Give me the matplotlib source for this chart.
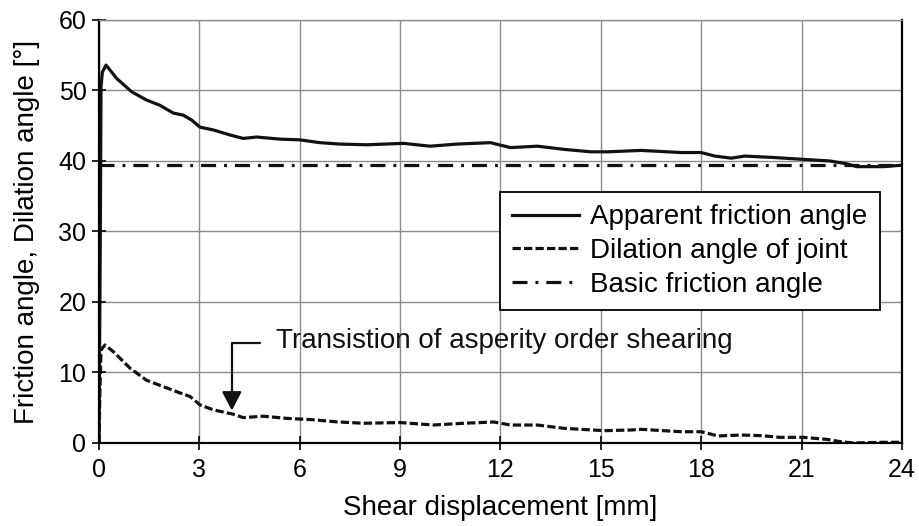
import matplotlib
matplotlib.use("Agg")
import matplotlib.pyplot as plt

plt.rcParams['font.family'] = ['Liberation Sans', 'DejaVu Sans']

# apparent friction angle
fric_x = [0.0, 0.04, 0.06, 0.1, 0.21, 0.53, 0.98, 1.42, 1.82, 2.22, 2.52, 2.77, 3.02,
          3.42, 3.91, 4.31, 4.71, 5.41, 6.0, 6.6, 7.2, 8.0, 9.1, 9.9, 10.7, 11.7,
          12.3, 13.1, 13.9, 14.7, 15.2, 16.2, 17.4, 18.0, 18.4, 18.9, 19.3, 20.15,
          21.15, 21.85, 22.35, 22.65, 23.45, 24.0]
fric_y = [0.0, 30.0, 50.5, 52.6, 53.6, 51.7, 49.8, 48.65, 47.9, 46.8, 46.5, 45.8, 44.8,
          44.4, 43.7, 43.2, 43.4, 43.1, 43.0, 42.6, 42.4, 42.3, 42.5, 42.1, 42.4, 42.6,
          41.9, 42.1, 41.65, 41.3, 41.3, 41.5, 41.2, 41.2, 40.7, 40.4, 40.7, 40.5,
          40.2, 40.0, 39.6, 39.2, 39.2, 39.4]

# dilation angle of joint
dil_x = [0.0, 0.03, 0.06, 0.18, 0.43, 0.93, 1.42, 1.92, 2.42, 2.72, 3.02, 3.42, 4.0,
         4.31, 4.9, 5.6, 6.4, 7.1, 7.9, 9.0, 10.0, 10.9, 11.8, 12.3, 13.1, 13.9,
         15.1, 15.9, 16.2, 17.4, 18.0, 18.5, 19.2, 19.8, 20.35, 21.05, 21.75, 22.15,
         22.55, 23.45, 24.0]
dil_y = [0.0, 8.0, 13.2, 13.9, 12.95, 10.6, 8.9, 8.0, 7.1, 6.6, 5.4, 4.7, 4.1,
         3.6, 3.8, 3.5, 3.3, 3.0, 2.8, 2.9, 2.55, 2.8, 2.98, 2.55, 2.55, 2.08,
         1.75, 1.84, 1.94, 1.6, 1.6, 1.0, 1.13, 1.04, 0.8, 0.8, 0.52, 0.2,
         0.0, 0.1, 0.1]

basic_angle = 39.4
x_ticks = [0, 3, 6, 9, 12, 15, 18, 21, 24]
y_ticks = [0, 10, 20, 30, 40, 50, 60]

fig = plt.figure(figsize=(9.2, 5.26), dpi=100)
ax = fig.add_axes([0.1076, 0.1578, 0.8728, 0.8042])

lw = 2.3
ax.plot(fric_x, fric_y, color='#111111', lw=lw, label='Apparent friction angle')
ax.plot(dil_x, dil_y, color='#111111', lw=lw, dashes=(2.6, 1.0),
        label='Dilation angle of joint')
ax.plot([0, 24], [basic_angle, basic_angle], color='#111111', lw=lw,
        dashes=(4.7, 2.5, 0.9, 2.5), label='Basic friction angle')

ax.set_xlim(0, 24)
ax.set_ylim(0, 60)
ax.set_xticks(x_ticks)
ax.set_yticks(y_ticks)
ax.grid(True, color='#8c8c8c', lw=1.0)
ax.set_axisbelow(True)

for s in ['left', 'bottom', 'right']:
    ax.spines[s].set_color('black')
    ax.spines[s].set_linewidth(1.6)
ax.spines['top'].set_color('#8c8c8c')
ax.spines['top'].set_linewidth(1.0)

ax.tick_params(axis='x', direction='inout', length=10, width=1.2, labelsize=18, pad=6)
ax.tick_params(axis='y', direction='inout', length=10, width=1.2, labelsize=18, pad=4)

ax.set_xlabel('Shear displacement [mm]', fontsize=20, labelpad=9)
ax.set_ylabel('Friction angle, Dilation angle [°]', fontsize=20, labelpad=13)

leg = ax.legend(loc='upper right', bbox_to_anchor=(0.9726, 0.594), fontsize=20,
                handlelength=2.4, handletextpad=0.4, borderpad=0.45,
                labelspacing=0.28, fancybox=False, framealpha=1,
                edgecolor='black', borderaxespad=0)
leg.get_frame().set_linewidth(1.3)

ax.annotate('', xy=(3.97, 4.6), xytext=(4.81, 14.2),
            arrowprops=dict(arrowstyle='-|>,head_length=1.15,head_width=0.6',
                            connectionstyle='angle,angleA=0,angleB=90,rad=0',
                            color='#111111', lw=1.6, shrinkA=0, shrinkB=0))
ax.text(5.3, 14.4, 'Transistion of asperity order shearing', fontsize=20,
        va='center', ha='left', color='#111111')

fig.savefig('out.png', dpi=100)
